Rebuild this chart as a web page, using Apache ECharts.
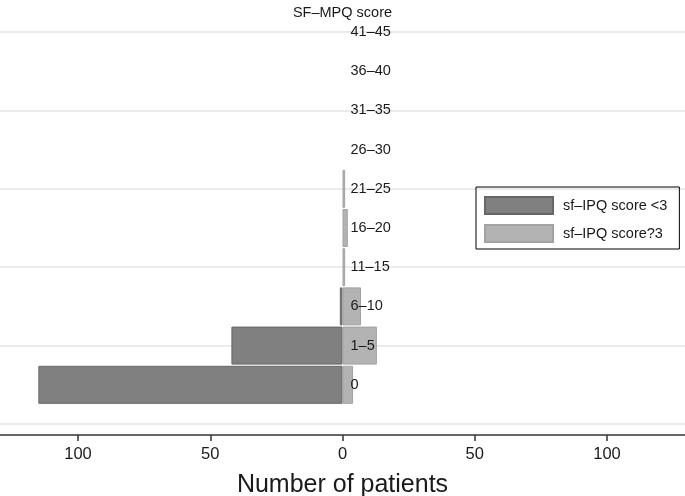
<!DOCTYPE html>
<html>
<head>
<meta charset="utf-8">
<script src="https://cdn.jsdelivr.net/npm/echarts@6/dist/echarts.min.js"></script>
<style>html,body{margin:0;padding:0;background:#fff;}#c{width:685px;height:496px;}</style>
</head>
<body>
<div id="c"></div>
<script>
// categories bottom -> top (first entry is an empty spacer row)
const categories = ['', '0', '1–5', '6–10', '11–15', '16–20', '21–25', '26–30', '31–35', '36–40', '41–45'];
// number of patients per SF-MPQ class (bottom -> top, spacer excluded)
const lowIPQ  = [115, 42, 1, 0, 0, 0, 0, 0, 0, 0];   // sf-IPQ score <3 (drawn to the left)
const highIPQ = [4, 13, 7, 1, 2, 1, 0, 0, 0, 0];     // sf-IPQ score?3 (drawn to the right)
const xTicks = [-100, -50, 0, 50, 100];
const seriesNames = ['sf–IPQ score <3', 'sf–IPQ score?3'];

const FONT = '"Liberation Sans", Arial, Helvetica, sans-serif';
const TXT = '#1a1a1a';

const leftData = ['-'].concat(lowIPQ.map(v => v === 0 ? '-' : -v));
const rightData = ['-'].concat(highIPQ.map(v => v === 0 ? '-' : v));

const chart = echarts.init(document.getElementById('c'), null, {renderer: 'canvas'});
chart.setOption({
  animation: false,
  backgroundColor: '#fff',
  textStyle: {fontFamily: FONT, color: TXT},
  title: {
    text: 'SF–MPQ score', left: 'center', top: 5, padding: 0,
    textStyle: {fontFamily: FONT, fontSize: 14.5, fontWeight: 'normal', color: TXT}
  },
  legend: {
    orient: 'vertical', left: 476, top: 187,
    padding: [9, 12, 6, 8],
    itemWidth: 68, itemHeight: 17, itemGap: 9,
    borderColor: '#000', borderWidth: 1, borderRadius: 0,
    icon: 'rect',
    textStyle: {fontFamily: FONT, fontSize: 14.5, color: TXT, padding: [0, 0, 0, 5]},
    data: seriesNames
  },
  grid: {left: 0, right: 0, top: 32, bottom: 72, containLabel: false, outerBoundsMode: 'none'},
  xAxis: {
    type: 'value', min: -129.5, max: 129.5, offset: 11,
    name: 'Number of patients', nameLocation: 'middle', nameGap: 38,
    nameTextStyle: {fontFamily: FONT, fontSize: 25, color: TXT},
    axisLine: {show: true, lineStyle: {color: '#333', width: 1.5}},
    axisTick: {show: true, length: 6, lineStyle: {color: '#333', width: 1.5}, customValues: xTicks},
    axisLabel: {fontFamily: FONT, fontSize: 16.5, color: TXT, margin: 11, customValues: xTicks,
      formatter: v => String(Math.abs(v))},
    splitLine: {show: false}
  },
  yAxis: [
    {
      type: 'category', data: categories, boundaryGap: false,
      position: 'left', offset: -342.5, z: 0,
      axisLine: {show: false, onZero: false},
      axisTick: {show: false},
      axisLabel: {show: false},
      splitLine: {show: true, interval: 1, lineStyle: {color: '#e4e4e4', width: 1.5}}
    },
    {
      type: 'category', data: categories, boundaryGap: false,
      position: 'left', offset: -342.5, z: 10,
      axisLine: {show: false, onZero: false},
      axisTick: {show: false},
      axisLabel: {inside: true, margin: 8, interval: 0, fontFamily: FONT, fontSize: 14.5, color: TXT},
      splitLine: {show: false}
    }
  ],
  series: [
    {
      name: seriesNames[0], type: 'bar', data: leftData, barWidth: 38, barGap: '-100%', yAxisIndex: 0,
      itemStyle: {color: '#808080', borderColor: '#666', borderWidth: 1}
    },
    {
      name: seriesNames[1], type: 'bar', data: rightData, barWidth: 38, barGap: '-100%', yAxisIndex: 0,
      itemStyle: {color: '#b3b3b3', borderColor: '#a2a2a2', borderWidth: 1}
    }
  ]
});
</script>
</body>
</html>
